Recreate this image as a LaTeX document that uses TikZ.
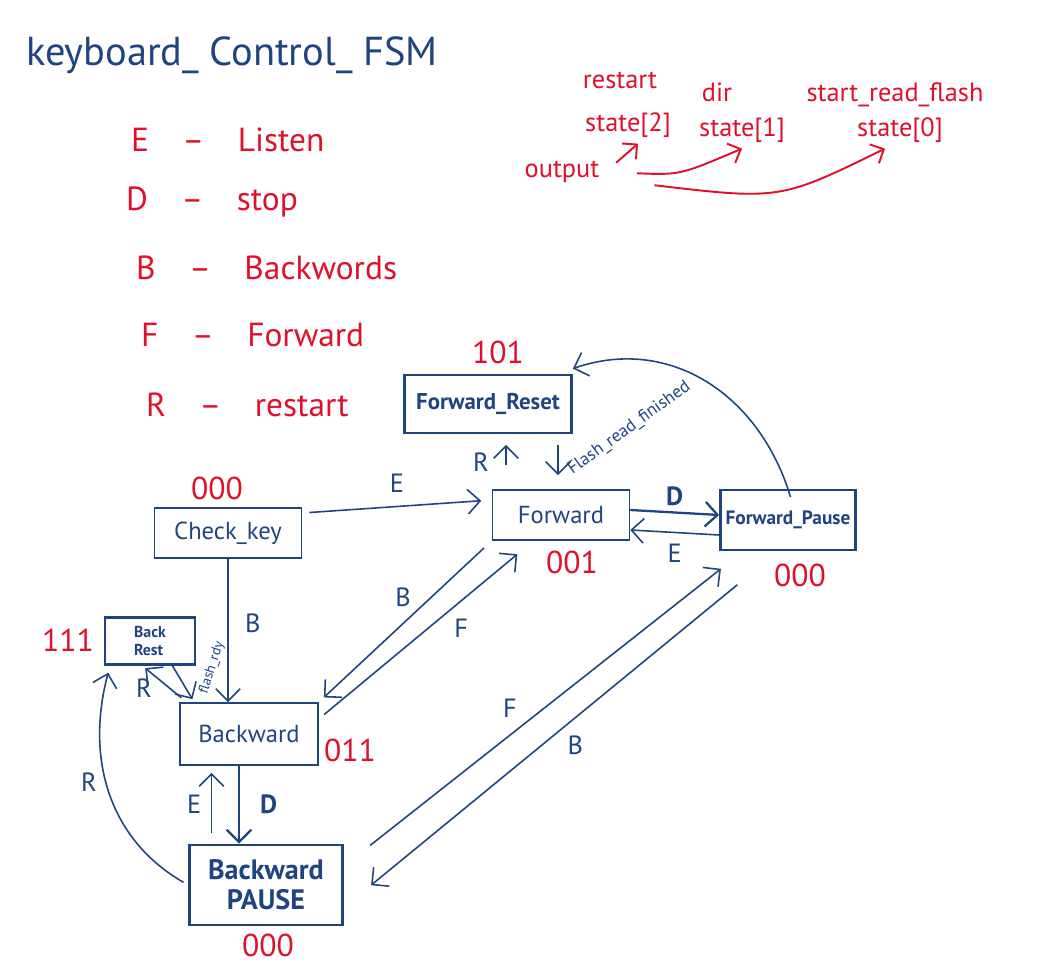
\documentclass[tikz,border=0pt]{standalone}
\usepackage{fontspec}
\setmainfont{PT Sans}
\usetikzlibrary{arrows.meta}
\definecolor{ink}{HTML}{1F447F}
\definecolor{mark}{HTML}{E0102A}

\begin{document}
\begin{tikzpicture}[x=0.02cm, y=-0.02cm,
  thinbox/.style={draw=ink, line width=0.9pt, text=ink, inner sep=0pt, font=\fontsize{14}{16}\selectfont},
  thickbox/.style={draw=ink, line width=1.6pt, text=ink, inner sep=0pt, font=\bfseries\fontsize{13}{15}\selectfont},
  code/.style={text=mark, font=\fontsize{18}{20}\selectfont},
  legend/.style={text=mark, anchor=west, font=\fontsize{19}{23}\selectfont},
  note/.style={text=mark, font=\fontsize{15}{18}\selectfont},
  redarrow/.style={draw=mark, line width=1.1pt, -{Straight Barb[length=6pt]}},
  trans/.style={draw=ink, line width=0.9pt, -{Straight Barb[length=7pt]}},
  lbl/.style={text=ink, font=\fontsize{15}{18}\selectfont},
]
\useasboundingbox (0,0) rectangle (1042,966);

% title and key legend
\node[text=ink, anchor=west, font=\fontsize{23}{27}\selectfont] (title) at (20,55) {keyboard\_ Control\_ FSM};
\node[legend] (legE) at (125,140) {E\quad--\quad Listen};
\node[legend] (legD) at (120,202) {D\quad--\quad stop};
\node[legend] (legB) at (130,268) {B\quad--\quad Backwords};
\node[legend] (legF) at (135,335) {F\quad--\quad Forward};
\node[legend] (legR) at (140,405) {R\quad--\quad restart};

% output bits
\node[note] (nrst) at (620,80) {restart};
\node[note] (ndir) at (717,92) {dir};
\node[note] (nsrf) at (895,95) {start\_read\_flash};
\node[note] (s2) at (628,125) {state[2]};
\node[note] (s1) at (742,130) {state[1]};
\node[note] (s0) at (900,130) {state[0]};
\node[note] (out) at (562,172) {output};
\draw[redarrow, shorten <=8pt] (out.east) -- ([xshift=0.2cm]s2.south);
\draw[redarrow, shorten <=18pt] (out.east) .. controls (680,175) .. (s1.south);
\draw[redarrow, shorten <=28pt] ([yshift=-0.15cm]out.east) .. controls (780,200) .. ([xshift=-0.3cm]s0.south);

% states
\node[thickbox, minimum width=3.34cm, minimum height=1.16cm] (frst) at (488,404) {Forward\_Reset};
\node[thinbox, minimum width=2.74cm, minimum height=1cm] (fwd) at (561,515) {Forward};
\node[thickbox, minimum width=2.7cm, minimum height=1.2cm, font=\bfseries\fontsize{11}{13}\selectfont] (fpse) at (788,520) {Forward\_Pause};
\node[thinbox, minimum width=2.94cm, minimum height=1cm] (chk) at (228,533) {Check\_key};
\node[thickbox, minimum width=1.8cm, minimum height=0.94cm, align=left, font=\bfseries\fontsize{9}{10}\selectfont] (brst) at (150,641) {Back\\Rest};
\node[thinbox, minimum width=2.76cm, minimum height=1.24cm] (bwd) at (249,734) {Backward};
\node[thickbox, minimum width=3.06cm, minimum height=1.6cm, align=center, font=\bfseries\fontsize{16}{17}\selectfont] (bpse) at (266,885) {Backward\\PAUSE};

\node[code] (c101) at (498,352) {101};
\node[code] (c001) at (572,562) {001};
\node[code] (c000f) at (800,575) {000};
\node[code] (c000c) at (217,488) {000};
\node[code] (c111) at (68,640) {111};
\node[code] (c011) at (350,750) {011};
\node[code] (c000b) at (268,945) {000};

% transitions
\draw[trans, shorten <=4pt, shorten >=6pt] ([yshift=0.4cm]chk.east) -- node[lbl, above, yshift=4pt] {E} ([yshift=0.3cm]fwd.west);
\draw[trans] (chk.south) -- node[lbl, right, xshift=6pt, pos=.45] {B} (chk.south |- bwd.north);
\draw[trans, shorten <=14pt, shorten >=6pt] ([xshift=-1.1cm]fwd.north) -- node[lbl, left, xshift=-6pt] {R} ([xshift=-1.1cm]fwd.north |- frst.south);
\draw[trans, shorten <=6pt, shorten >=8pt] ([xshift=1.4cm]frst.south) -- ([xshift=1.4cm]frst.south |- fwd.north)
  node[text=ink, anchor=south west, xshift=9pt, rotate=36, font=\fontsize{10}{12}\selectfont, pos=.9, inner sep=2pt] {Flash\_read\_finished};
\draw[trans, line width=1.3pt] ([yshift=0.1cm]fwd.east) -- node[lbl, above, font=\bfseries\fontsize{15}{18}\selectfont] {D} ([yshift=0.1cm]fpse.west);
\draw[trans] ([yshift=-0.3cm]fpse.west) -- node[lbl, below, yshift=-3pt] {E} ([yshift=-0.3cm]fwd.east);
\draw[trans, shorten <=6pt, shorten >=4pt] (fwd.south west) -- node[lbl, above left, pos=.45, xshift=2pt] {B} (bwd.north east);
\draw[trans, shorten <=4pt, shorten >=12pt] ([yshift=0.3cm]bwd.east) -- node[lbl, below right, pos=.6] {F} ([xshift=-0.55cm]fwd.south);
\draw[trans, shorten <=19pt, shorten >=16pt] ([yshift=-0.45cm]bpse.north east) -- node[lbl, above left, pos=.45] {F} ([xshift=-0.9cm]fpse.south);
\draw[trans, shorten <=30pt, shorten >=20pt] ([xshift=-0.2cm]fpse.south) -- node[lbl, below right, pos=.5] {B} ([yshift=-0.45cm]bpse.east);
\draw[trans, shorten <=-5pt] (fpse.north) .. controls (760,395) and (670,335) .. ([yshift=0.1cm]frst.north east);
\draw[trans, shorten <=4pt, shorten >=2pt] ([xshift=0.15cm]bwd.north west) -- node[lbl, left, xshift=-6pt, pos=.4] {R} ([xshift=-0.15cm]brst.south);
\draw[trans, shorten >=2pt] ([xshift=0.45cm]brst.south) -- ([xshift=0.3cm]bwd.north west)
  node[text=ink, anchor=north west, rotate=72, font=\fontsize{8}{10}\selectfont, pos=.8, inner sep=3pt] {flash\_rdy};
\draw[trans, line width=1.3pt] ([xshift=-0.2cm]bwd.south) -- node[lbl, right, xshift=8pt, font=\bfseries\fontsize{15}{18}\selectfont] {D} ([xshift=-0.2cm]bwd.south |- bpse.north);
\draw[trans, shorten <=6pt, shorten >=4pt] ([xshift=-0.75cm]bwd.south |- bpse.north) -- node[lbl, left, xshift=-2pt] {E} ([xshift=-0.75cm]bwd.south);
\draw[trans, shorten <=3pt, shorten >=4pt] (bpse.west) .. controls (110,840) and (85,760) .. node[lbl, left, pos=.55, xshift=-2pt] {R} ([xshift=-0.8cm]brst.south);
\end{tikzpicture}
\end{document}
